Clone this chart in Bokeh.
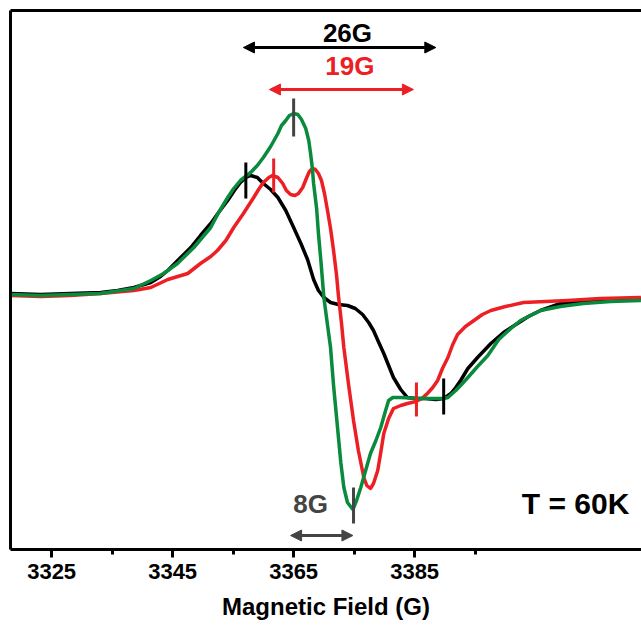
from bokeh.plotting import figure
from bokeh.models import (Range1d, LinearAxis, FixedTicker, Arrow, NormalHead, Label)
from bokeh.embed import file_html
from bokeh.resources import INLINE

# ---------------- data ----------------
black_field = [3318.2, 3323.2, 3328.1, 3333.1, 3335.9, 3338.6, 3341.4, 3343.0, 3344.2, 3346.0,
               3348.0, 3349.6, 3351.3, 3352.6, 3354.1, 3355.2, 3356.2, 3357.1, 3357.9, 3359.0,
               3360.0, 3361.2, 3362.4, 3363.7, 3365.0, 3366.2, 3367.3, 3368.3, 3369.1, 3370.0,
               3371.1, 3372.4, 3373.9, 3375.2, 3376.4, 3377.4, 3378.2, 3379.0, 3379.9, 3380.7,
               3381.5, 3382.7, 3383.8, 3385.2, 3386.8, 3388.5, 3389.8, 3391.0, 3391.8, 3392.6,
               3393.8, 3395.4, 3397.6, 3399.7, 3402.0, 3403.8, 3405.8, 3409.1, 3412.4, 3415.7,
               3419.0, 3422.4]
black_signal = [0.02, 0.01, 0.02, 0.03, 0.05, 0.08, 0.13, 0.19, 0.25, 0.36,
                0.48, 0.60, 0.72, 0.83, 0.95, 1.05, 1.13, 1.18, 1.20, 1.18,
                1.12, 1.06, 0.98, 0.85, 0.68, 0.52, 0.36, 0.16, 0.05, -0.02,
                -0.07, -0.09, -0.10, -0.13, -0.19, -0.27, -0.35, -0.46, -0.58, -0.70,
                -0.82, -0.94, -1.02, -1.03, -1.03, -1.04, -1.03, -0.98, -0.92, -0.85,
                -0.73, -0.62, -0.48, -0.37, -0.28, -0.21, -0.15, -0.08, -0.06, -0.05,
                -0.04, -0.03]

red_field = [3318.2, 3323.2, 3328.1, 3333.1, 3338.6, 3341.4, 3344.2, 3347.5, 3349.6, 3351.3,
             3352.4, 3353.8, 3355.1, 3356.7, 3358.4, 3359.2, 3360.0, 3360.9, 3361.5, 3362.4,
             3363.2, 3363.8, 3364.5, 3365.2, 3365.8, 3366.5, 3367.1, 3367.6, 3368.1, 3368.6,
             3369.1, 3369.6, 3370.1, 3370.6, 3371.1, 3371.6, 3372.1, 3372.4, 3372.9, 3373.3,
             3374.1, 3374.9, 3375.7, 3376.6, 3377.1, 3377.7, 3378.2, 3378.9, 3379.4, 3379.9,
             3380.7, 3381.5, 3382.7, 3383.8, 3385.2, 3386.2, 3387.1, 3388.0, 3388.8, 3389.6,
             3390.5, 3391.3, 3392.1, 3393.4, 3394.8, 3396.2, 3397.6, 3400.0, 3403.0, 3406.7,
             3410.3, 3415.7, 3422.4]
red_signal = [0.00, -0.01, 0.00, 0.02, 0.05, 0.08, 0.16, 0.22, 0.32, 0.39,
              0.45, 0.55, 0.68, 0.82, 0.98, 1.06, 1.13, 1.18, 1.20, 1.18,
              1.12, 1.05, 1.01, 1.00, 1.02, 1.08, 1.17, 1.24, 1.27, 1.26,
              1.22, 1.15, 1.02, 0.85, 0.67, 0.45, 0.20, 0.00, -0.27, -0.52,
              -0.90, -1.25, -1.55, -1.82, -1.90, -1.93, -1.88, -1.75, -1.57, -1.38,
              -1.23, -1.13, -1.10, -1.08, -1.06, -1.03, -0.98, -0.92, -0.85, -0.73,
              -0.62, -0.49, -0.39, -0.31, -0.25, -0.19, -0.15, -0.11, -0.07, -0.06,
              -0.05, -0.03, -0.02]

green_field = [3318.2, 3323.2, 3328.1, 3333.1, 3338.6, 3341.4, 3343.5, 3345.8, 3348.5, 3351.3,
               3352.6, 3354.1, 3355.1, 3356.2, 3357.9, 3359.0, 3360.0, 3361.2, 3362.4, 3363.0,
               3363.7, 3364.3, 3365.0, 3365.7, 3366.3, 3367.0, 3367.5, 3367.8, 3368.1, 3368.3,
               3368.8, 3369.1, 3369.5, 3370.0, 3370.5, 3371.1, 3371.6, 3372.3, 3372.8, 3373.3,
               3373.9, 3374.8, 3375.4, 3376.1, 3376.9, 3377.7, 3378.6, 3379.4, 3380.2, 3380.7,
               3381.4, 3382.7, 3386.0, 3389.8, 3390.5, 3391.8, 3392.9, 3393.8, 3395.4, 3397.1,
               3398.9, 3400.9, 3402.5, 3405.8, 3409.1, 3412.9, 3417.4, 3422.4]
green_signal = [0.01, 0.00, 0.01, 0.02, 0.07, 0.15, 0.22, 0.32, 0.48, 0.68,
                0.83, 0.98, 1.07, 1.15, 1.23, 1.30, 1.38, 1.49, 1.62, 1.70,
                1.75, 1.80, 1.82, 1.81, 1.76, 1.67, 1.55, 1.42, 1.27, 1.12,
                0.87, 0.62, 0.35, -0.02, -0.25, -0.52, -0.90, -1.35, -1.67, -1.92,
                -2.07, -2.14, -2.05, -1.92, -1.75, -1.58, -1.45, -1.32, -1.15, -1.05,
                -1.02, -1.02, -1.03, -1.03, -1.02, -0.95, -0.88, -0.82, -0.71, -0.60,
                -0.44, -0.33, -0.25, -0.15, -0.11, -0.08, -0.06, -0.05]

major_ticks = [3325, 3345, 3365, 3385]
minor_ticks = [3335, 3355, 3375, 3395]

# peak-position markers: field, lower end, upper end
black_marks = [(3357.1, 0.97, 1.33), (3389.8, -1.19, -0.83)]
red_marks = [(3361.7, 1.03, 1.37), (3385.3, -1.21, -0.87)]
gray_marks = [(3365.0, 1.59, 1.97), (3374.9, -2.28, -1.92)]

# splitting arrows: start field, end field, level
black_span = (3356.7, 3388.5, 2.48)
red_span = (3361.0, 3384.8, 2.06)
gray_span = (3364.5, 3374.8, -2.40)

BLACK = "#000000"
RED = "#ec2024"
GREEN = "#0a8a3c"
GRAY = "#444444"
FONT = "Liberation Sans"

p = figure(width=641, height=627, output_backend="svg", toolbar_location=None,
           x_range=Range1d(3318.2, 3422.5), y_range=Range1d(-2.54, 2.85),
           min_border_left=10, min_border_right=0, min_border_top=10,
           min_border_bottom=78, x_axis_location=None, y_axis_location=None)
p.outline_line_color = None
p.grid.visible = False
p.background_fill_color = "white"
p.border_fill_color = "white"

# bottom axis
xb = LinearAxis(ticker=FixedTicker(ticks=major_ticks, minor_ticks=minor_ticks))
xb.axis_label = "Magnetic Field (G)"
xb.axis_line_width = 3
xb.axis_line_color = "black"
xb.major_tick_out = 8
xb.major_tick_in = 0
xb.minor_tick_out = 5
xb.minor_tick_in = 0
xb.major_tick_line_width = 3
xb.minor_tick_line_width = 3
xb.major_label_text_font = FONT
xb.major_label_text_font_size = "22px"
xb.major_label_text_font_style = "bold"
xb.major_label_text_color = "black"
xb.major_label_standoff = 6
xb.axis_label_text_font = FONT
xb.axis_label_text_font_size = "24px"
xb.axis_label_text_font_style = "bold"
xb.axis_label_text_color = "black"
xb.axis_label_standoff = 11
p.add_layout(xb, "below")

# left axis line (no ticks)
yl = LinearAxis(ticker=FixedTicker(ticks=[]))
yl.axis_line_width = 3
yl.major_tick_line_color = None
yl.minor_tick_line_color = None
yl.major_label_text_font_size = "0px"
yl.major_label_standoff = 0
p.add_layout(yl, "left")

# top frame line
xt = LinearAxis(ticker=FixedTicker(ticks=[]))
xt.axis_line_width = 3
xt.major_tick_line_color = None
xt.minor_tick_line_color = None
xt.major_label_text_font_size = "0px"
xt.major_label_standoff = 0
p.add_layout(xt, "above")

# spectra
p.line(black_field, black_signal, line_color=BLACK, line_width=3.5, line_join="round")
p.line(red_field, red_signal, line_color=RED, line_width=3.5, line_join="round")
p.line(green_field, green_signal, line_color=GREEN, line_width=3.5, line_join="round")

# markers
for marks, col in ((black_marks, BLACK), (red_marks, RED), (gray_marks, GRAY)):
    p.segment(x0=[m[0] for m in marks], y0=[m[1] for m in marks],
              x1=[m[0] for m in marks], y1=[m[2] for m in marks],
              line_color=col, line_width=3)

# arrows
for span, col in ((black_span, BLACK), (red_span, RED), (gray_span, GRAY)):
    p.add_layout(Arrow(x_start=span[0], x_end=span[1], y_start=span[2], y_end=span[2],
                       line_color=col, line_width=3,
                       start=NormalHead(size=11, fill_color=col, line_color=col),
                       end=NormalHead(size=11, fill_color=col, line_color=col)))

# labels
def lab(x, y, txt, col, size):
    p.add_layout(Label(x=x, y=y, text=txt, text_color=col, text_font=FONT,
                       text_font_size=size, text_font_style="bold",
                       text_align="center", text_baseline="middle"))

lab(3373.9, 2.63, "26G", BLACK, "26px")
lab(3374.3, 2.30, "19G", RED, "26px")
lab(3367.8, -2.08, "8G", GRAY, "26px")
lab(3411.6, -2.08, "T = 60K", BLACK, "30px")

open("out.html", "w").write(file_html(p, INLINE))
